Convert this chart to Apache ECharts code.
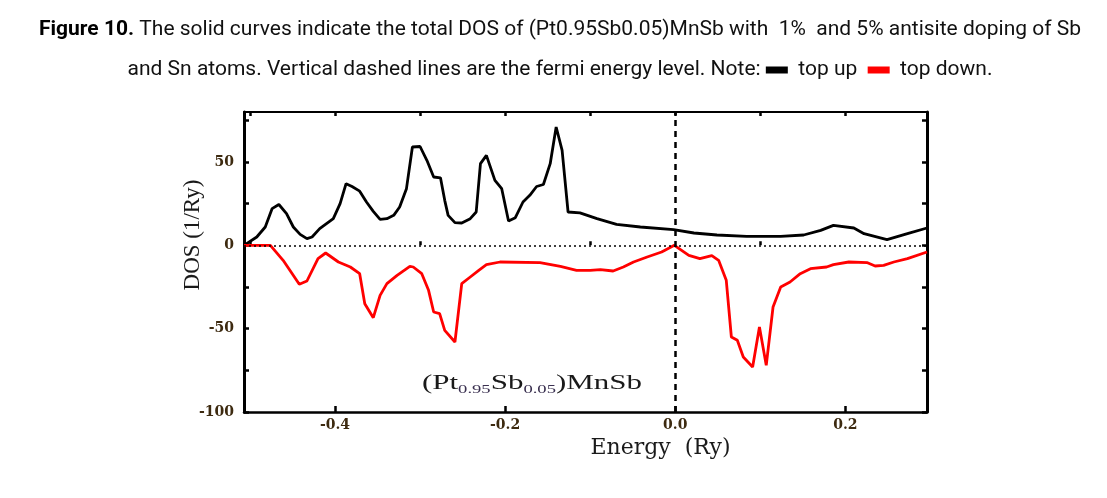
<!DOCTYPE html>
<html>
<head>
<meta charset="utf-8">
<script src="https://cdn.jsdelivr.net/npm/echarts@6/dist/echarts.min.js"></script>
<style>
html,body{margin:0;padding:0;background:#fff;}
#chart{width:1107px;height:498px;}
</style>
</head>
<body>
<div id="chart"></div>
<script>
// ---- data ----
const upEnergy = [-0.507,-0.492,-0.482,-0.474,-0.466,-0.457,-0.449,-0.441,-0.433,-0.427,-0.418,-0.410,-0.402,-0.394,-0.387,-0.380,-0.371,-0.363,-0.355,-0.347,-0.339,-0.331,-0.324,-0.316,-0.309,-0.300,-0.292,-0.284,-0.276,-0.271,-0.267,-0.259,-0.251,-0.241,-0.234,-0.229,-0.222,-0.218,-0.212,-0.204,-0.196,-0.188,-0.179,-0.171,-0.163,-0.155,-0.147,-0.140,-0.133,-0.126,-0.112,-0.092,-0.069,-0.041,-0.002,0.022,0.049,0.084,0.124,0.151,0.171,0.186,0.210,0.222,0.249,0.273,0.296];
const upDos    = [0,5,11,22,24.5,19,11,6.6,4,5,10,13,16,25,37,35.3,32.5,26,20.4,15.6,16,18,23,34,59,59.3,51,41,40.5,27,18,13.6,13.4,16,20,49,54,48,39,34,14.6,16.6,26,30,35.3,36.5,49,71,57,20,19.5,16,12.6,11,9.4,7.4,6.2,5.4,5.4,6.2,9,12,10.4,7,3.4,7,10.4];
const downEnergy = [-0.507,-0.476,-0.461,-0.442,-0.433,-0.420,-0.411,-0.396,-0.382,-0.371,-0.365,-0.355,-0.347,-0.339,-0.327,-0.312,-0.308,-0.298,-0.290,-0.284,-0.277,-0.271,-0.259,-0.251,-0.241,-0.231,-0.222,-0.206,-0.159,-0.135,-0.116,-0.100,-0.088,-0.073,-0.061,-0.049,-0.033,-0.016,-0.001,0.016,0.029,0.043,0.051,0.060,0.066,0.073,0.080,0.091,0.099,0.107,0.115,0.124,0.135,0.147,0.159,0.178,0.186,0.204,0.226,0.235,0.245,0.257,0.273,0.296];
const downDos    = [0,0,-9,-23.4,-21.4,-8,-4.6,-10,-13,-17,-35,-43.4,-30,-23,-18,-12.6,-13,-17,-27,-40,-41,-51,-58,-23,-19,-15,-11.6,-10,-10.4,-12.6,-15,-15,-14.6,-15.4,-13,-10,-7,-4,0,-6,-8,-6.2,-9,-21,-55,-57,-67,-73,-49,-72,-37,-25,-22,-17,-14,-13,-11.6,-10,-10.4,-12.4,-12,-10,-8,-4];
const xMajorTicks = [-0.4,-0.2,0.0,0.2];
const xMinorTicks = [-0.5,-0.3,-0.1,0.1];
const xAllTicks = [-0.5,-0.4,-0.3,-0.2,-0.1,0.0,0.1,0.2];
const yLabelTicks = [-100,-50,0,50];
const yAllTicks = [-100,-75,-50,-25,0,25,50,75];
const fermiEnergy = 0;

const titleLine1 = '{b|Figure 10.} The solid curves indicate the total DOS of (Pt0.95Sb0.05)MnSb with  1%  and 5% antisite doping of Sb';
const titleLine2 = 'and Sn atoms. Vertical dashed lines are the fermi energy level. Note: {k|}  top up  {r|}  top down.';

const chart = echarts.init(document.getElementById('chart'), null, {renderer:'canvas'});
const serif = 'DejaVu Serif';
const labelColor = '#3d2a10';
const frameW = 2.5;

function pairs(xs, ys){ return xs.map((x,i)=>[x, ys[i]]); }

const xMin = -0.507, xMax = 0.296;

const option = {
  animation:false,
  backgroundColor:'#fff',
  grid:{left:244, right:180, top:112, bottom:86, containLabel:false},
  xAxis:[
    {type:'value', min:xMin, max:xMax, position:'bottom',
     axisLine:{show:true, onZero:false, lineStyle:{color:'#000', width:frameW}},
     axisTick:{show:true, inside:true, length:6, customValues:xMajorTicks, lineStyle:{color:'#000', width:2.5}},
     axisLabel:{show:true, customValues:xMajorTicks, margin:6, formatter:v=>v.toFixed(1), fontFamily:serif, fontSize:14, fontWeight:'bold', color:labelColor},
     splitLine:{show:false},
     name:'Energy  (Ry)', nameLocation:'middle', nameGap:25, nameMoveOverlap:false,
     nameTextStyle:{fontFamily:serif, fontSize:22, color:'#1a1a1a', padding:[0,0,0,150]}
    },
    {type:'value', min:xMin, max:xMax, position:'bottom', offset:0,
     axisLine:{show:false},
     axisTick:{show:true, inside:true, length:4, customValues:xMinorTicks, lineStyle:{color:'#000', width:2.5}},
     axisLabel:{show:false}, splitLine:{show:false}
    },
    {type:'value', min:xMin, max:xMax, position:'top',
     axisLine:{show:true, onZero:false, lineStyle:{color:'#000', width:2}},
     axisTick:{show:true, inside:true, length:4, customValues:xAllTicks, lineStyle:{color:'#000', width:2.5}},
     axisLabel:{show:false}, splitLine:{show:false}
    }
  ],
  yAxis:[
    {type:'value', min:-100, max:80, position:'left',
     axisLine:{show:true, onZero:false, lineStyle:{color:'#000', width:3}},
     axisTick:{show:true, inside:true, length:5, customValues:yAllTicks, lineStyle:{color:'#000', width:2.5}},
     axisLabel:{show:true, customValues:yLabelTicks, margin:10, fontFamily:serif, fontSize:14, fontWeight:'bold', color:labelColor},
     splitLine:{show:false},
     name:'DOS (1/Ry)', nameLocation:'middle', nameGap:40, nameRotate:90, nameMoveOverlap:false,
     nameTextStyle:{fontFamily:'Liberation Serif', fontSize:23, color:'#1a1a1a', padding:[0,0,0,54]}
    },
    {type:'value', min:-100, max:80, position:'right',
     axisLine:{show:true, onZero:false, lineStyle:{color:'#000', width:3}},
     axisTick:{show:true, inside:true, length:5, customValues:yAllTicks, lineStyle:{color:'#000', width:2.5}},
     axisLabel:{show:false}, splitLine:{show:false}
    }
  ],
  series:[
    {name:'top up', type:'line', xAxisIndex:0, yAxisIndex:0, data:pairs(upEnergy, upDos),
     showSymbol:false, symbol:'none', lineStyle:{color:'#000', width:2.8}, z:3,
     markLine:{silent:true, symbol:'none', label:{show:false},
       data:[
         {yAxis:0, lineStyle:{color:'#000', width:1.6, type:[2,3]}},
         {xAxis:fermiEnergy, lineStyle:{color:'#000', width:2.5, type:[6,5]}}
       ]}
    },
    {name:'top down', type:'line', xAxisIndex:0, yAxisIndex:0, data:pairs(downEnergy, downDos),
     showSymbol:false, symbol:'none', lineStyle:{color:'#ff0000', width:2.8}, z:4}
  ],
  graphic:[
    {type:'text', x:560, y:30, style:{
      text:titleLine1, fontFamily:'Roboto', fontSize:21, fill:'#111', align:'center', verticalAlign:'middle',
      rich:{b:{fontFamily:'Roboto', fontSize:21, fontWeight:'bold', fill:'#000'}}
    }},
    {type:'text', x:560, y:70, style:{
      text:titleLine2, fontFamily:'Roboto', fontSize:21, fill:'#111', align:'center', verticalAlign:'middle',
      rich:{
        k:{backgroundColor:'#000', width:22, height:7},
        r:{backgroundColor:'#ff0000', width:22, height:7}
      }
    }},
    {type:'text', x:532, y:384, scaleX:1.55, style:{
      text:'(Pt{s|0.95}Sb{s|0.05})MnSb', fontFamily:'Liberation Serif', fontSize:20, fill:'#1a1a1a',
      align:'center', verticalAlign:'middle', lineHeight:24,
      rich:{s:{fontFamily:'Liberation Serif', fontSize:12, fill:'#3a3050', verticalAlign:'bottom', lineHeight:24}}
    }}
  ]
};
chart.setOption(option);
</script>
</body>
</html>
